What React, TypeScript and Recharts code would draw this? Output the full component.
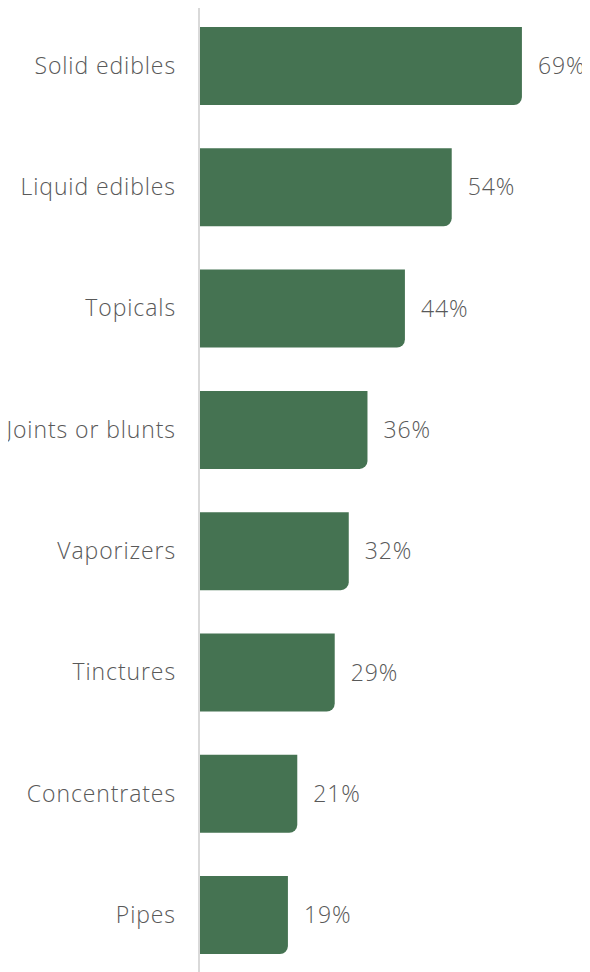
import React from 'react';
import { BarChart, Bar, XAxis, YAxis, LabelList } from 'recharts';

const categories = ['Solid edibles', 'Liquid edibles', 'Topicals', 'Joints or blunts', 'Vaporizers', 'Tinctures', 'Concentrates', 'Pipes'];
const values = [69, 54, 44, 36, 32, 29, 21, 19];

const data = categories.map((name, i) => ({ name, value: values[i] }));

const FONT = '"Open Sans", Lato, sans-serif';

export default function App() {
  return (
    <div style={{ marginTop: -8, marginLeft: -8, width: 590, height: 972, overflow: 'hidden' }}>
      <BarChart
        width={590}
        height={980}
        data={data}
        layout="vertical"
        margin={{ top: 5, right: 16.6, bottom: 4.6, left: 0 }}
      >
        <XAxis type="number" domain={[0, 80]} hide />
        <YAxis
          type="category"
          dataKey="name"
          width={199}
          axisLine={{ stroke: '#d9d9d9', strokeWidth: 2 }}
          tickLine={false}
          tickSize={0}
          tickMargin={23}
          tick={{ fill: '#595959', fontSize: 23, fontFamily: FONT, fontWeight: 300, letterSpacing: 0.9 }}
        />
        <Bar dataKey="value" fill="#457352" barSize={78} radius={[0, 0, 8, 0]} isAnimationActive={false}>
          <LabelList
            dataKey="value"
            position="right"
            offset={16}
            formatter={(v: any) => `${v}%`}
            style={{ fill: '#595959', fontSize: 23, fontFamily: FONT, fontWeight: 300, letterSpacing: 0.9 }}
          />
        </Bar>
      </BarChart>
    </div>
  );
}
